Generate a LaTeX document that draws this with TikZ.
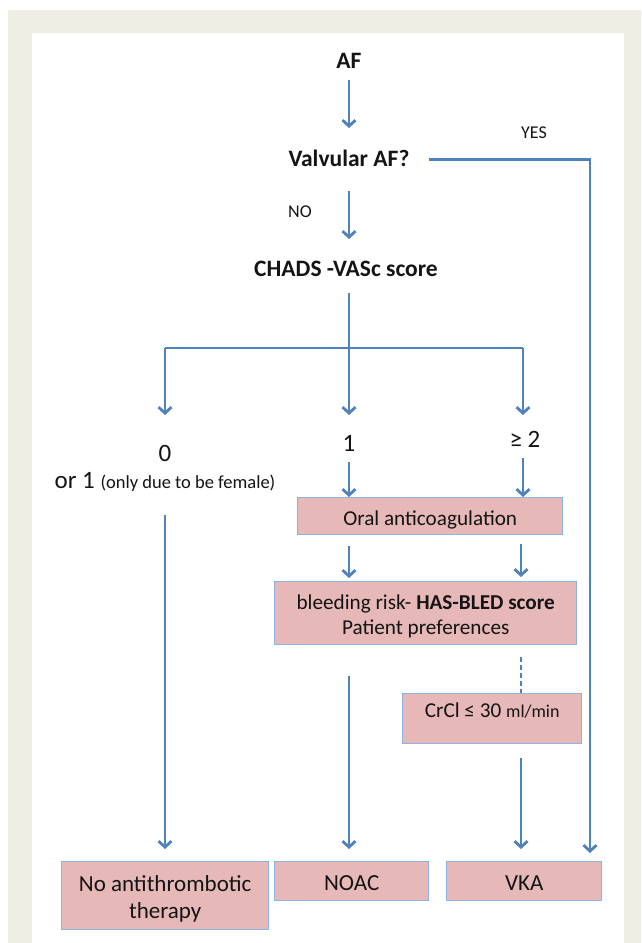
\documentclass[tikz,border=0pt]{standalone}
\usepackage{fontspec}
\setmainfont{Carlito}
\usetikzlibrary{arrows.meta}
\definecolor{beige}{HTML}{EEEEE4}
\definecolor{boxfill}{HTML}{E6B9B8}
\definecolor{boxline}{HTML}{8DB3E2}
\definecolor{arrowblue}{HTML}{4F81BD}
\definecolor{ink}{HTML}{141414}
\begin{document}
\begin{tikzpicture}[x=1pt,y=-1pt,
  lbl/.style={inner sep=0pt, text=ink, anchor=north},
  box/.style={draw=boxline, line width=1.4pt, fill=boxfill, inner sep=0pt, text=ink, align=center, anchor=north west},
  arr/.style={draw=arrowblue, line width=2.8pt, -{Straight Barb[length=6pt,width=13pt]}},
  ln/.style={draw=arrowblue, line width=2.8pt},
  bigb/.style={font=\fontsize{23.5}{28}\selectfont\bfseries},
  num/.style={font=\fontsize{25}{30}\selectfont},
  small/.style={font=\fontsize{18}{22}\selectfont},
  mid/.style={font=\fontsize{21.2}{25.2}\selectfont},
  low/.style={font=\fontsize{23}{27.6}\selectfont}
]
\useasboundingbox (0,0) rectangle (641,943);
\fill[white] (0,0) rectangle (641,943);
\fill[beige] (8,10) rectangle (641,943);
\fill[white] (32,33) rectangle (624,943);

% text nodes
\node[lbl,bigb,text height=23pt,text depth=12pt] (af) at (349,45) {AF};
\node[lbl,bigb,text height=38pt,text depth=25pt,minimum width=160pt] (valv) at (349,128) {Valvular AF?};
\node[lbl,bigb,text height=37pt,text depth=17pt] (chads) at (346,239) {CHADS -VASc score};
\node[inner sep=0pt,text=ink,anchor=base,small] (yes) at (534,138) {YES};
\node[inner sep=0pt,text=ink,anchor=base,small] (no) at (300,217) {NO};
\node[lbl,num,text height=46pt,text depth=2pt] (zero) at (165,415) {0};
\node[lbl,num,text height=18pt,text depth=27pt] (orone) at (165,470) {or 1 {\fontsize{18.5}{22}\selectfont(only due to be female)}};
\node[lbl,num,text height=36pt,text depth=11pt] (one) at (349,415) {1};
\node[lbl,num,text height=32pt,text depth=11pt] (ge2) at (525,415) {≥ 2};

% boxes
\node[box,mid,minimum width=265pt,minimum height=37pt,text height=19pt,text depth=0pt] (oral) at (297,497) {Oral anticoagulation};
\node[box,mid,minimum width=302pt,minimum height=63pt,text height=43pt,text depth=0pt] (bleed) at (274,581) {bleeding risk- \textbf{HAS-BLED score}\\Patient preferences};
\node[box,mid,minimum width=179pt,minimum height=50pt,text height=0pt,text depth=2pt] (crcl) at (402,693) {CrCl ≤ 30 {\fontsize{18}{22}\selectfont ml/min}};
\node[box,low,minimum width=207pt,minimum height=68pt,text height=46pt,text depth=0pt] (none) at (61,861) {No antithrombotic\\therapy};
\node[box,low,minimum width=154pt,minimum height=39pt,text height=19pt,text depth=0pt] (noac) at (274,861) {NOAC};
\node[box,low,minimum width=155pt,minimum height=39pt,text height=19pt,text depth=0pt] (vka) at (446,861) {VKA};

% coordinates
\coordinate (split) at (349,348);
\coordinate (lsplit) at (165,348);
\coordinate (rsplit) at (523,348);
\coordinate (colb) at (521,0);
\coordinate (yescol) at (590,0);

% connectors
\draw[arr] (af) -- (valv);
\draw[arr] (valv.south) -- (valv.south |- chads.north);
\draw[arr,shorten >=8pt] (valv.east) -| (yescol |- vka.north);
\draw[ln] (chads.south -| split) -- (split);
\draw[ln] (lsplit) -- (rsplit);
\draw[arr] (lsplit) -- (zero.north);
\draw[arr] (split) -- (one.north);
\draw[arr] (rsplit) -- (rsplit |- ge2.north);
\draw[arr] (one.south) -- (one |- oral.north);
\draw[arr] (rsplit |- ge2.south) -- (rsplit |- oral.north);
\draw[arr,shorten <=11pt,shorten >=3pt] (oral.south -| one) -- (one |- bleed.north);
\draw[arr,shorten <=9pt,shorten >=4pt] (oral.south -| colb) -- (colb |- bleed.north);
\draw[arr,shorten >=12pt] (orone.south) -- (orone |- none.north);
\draw[arr,shorten <=31pt,shorten >=12pt] (bleed.south -| one) -- (one |- noac.north);
\draw[ln,line width=2.4pt,dash pattern=on 5pt off 3pt,shorten <=12pt] (bleed.south -| colb) -- (colb |- crcl.north);
\draw[arr,shorten <=14pt,shorten >=12pt] (crcl.south -| colb) -- (colb |- vka.north);
\end{tikzpicture}
\end{document}
